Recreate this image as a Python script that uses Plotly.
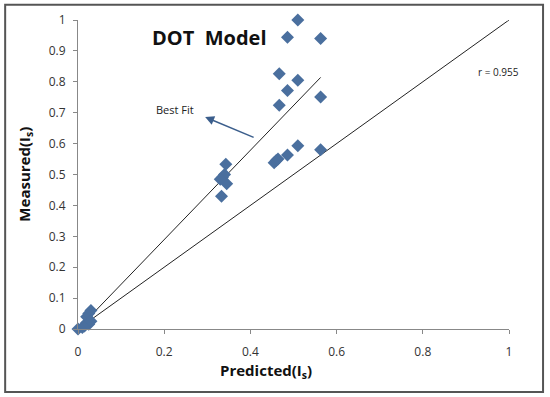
import numpy as np
import plotly.graph_objects as go

# Data
predicted = [0.0, 0.01, 0.015, 0.02, 0.025, 0.02, 0.025, 0.03, 0.03,
             0.343, 0.335, 0.34, 0.345, 0.333, 0.33,
             0.455, 0.46, 0.464, 0.486, 0.51, 0.563,
             0.467, 0.563, 0.486, 0.51, 0.467, 0.486, 0.563, 0.51]
measured = [0.0, 0.005, 0.01, 0.02, 0.015, 0.04, 0.05, 0.06, 0.025,
            0.533, 0.49, 0.50, 0.47, 0.43, 0.485,
            0.538, 0.545, 0.55, 0.563, 0.593, 0.58,
            0.724, 0.751, 0.772, 0.805, 0.826, 0.944, 0.94, 1.0]
r_value = 0.955
x_ticks = [0, 0.2, 0.4, 0.6, 0.8, 1]
y_ticks = [0, 0.1, 0.2, 0.3, 0.4, 0.5, 0.6, 0.7, 0.8, 0.9, 1]

px_arr = np.array(predicted)
my_arr = np.array(measured)
slope = float((px_arr * my_arr).sum() / (px_arr ** 2).sum())
fit_x = [0.0, float(px_arr.max())]
fit_y = [slope * v for v in fit_x]

font_main = "Open Sans, Liberation Sans, Arial, sans-serif"

fig = go.Figure()
fig.add_trace(go.Scatter(x=[0, 1], y=[0, 1], mode="lines+markers",
                         line=dict(color="#222222", width=1),
                         marker=dict(size=[0, 3], color="#222222"),
                         hoverinfo="skip", showlegend=False))
fig.add_trace(go.Scatter(x=fit_x, y=fit_y, mode="lines",
                         line=dict(color="#222222", width=1),
                         hoverinfo="skip", showlegend=False))
fig.add_trace(go.Scatter(x=predicted, y=measured, mode="markers",
                         marker=dict(symbol="diamond", size=10, color="#4a6f9e",
                                     line=dict(width=0)),
                         cliponaxis=False, showlegend=False))

axis_common = dict(showgrid=False, zeroline=False, showline=True,
                   linecolor="#888888", linewidth=1, ticks="outside",
                   ticklen=4, tickcolor="#888888",
                   tickfont=dict(family=font_main, size=12, color="#333333"),
                   mirror=False)

fig.update_layout(
    width=550, height=397,
    margin=dict(l=78, r=41, t=20, b=68),
    paper_bgcolor="white", plot_bgcolor="white",
    xaxis=dict(range=[0, 1], tickvals=x_ticks, ticklabelstandoff=8,
               ticktext=[f"{v:g}" for v in x_ticks], **axis_common),
    yaxis=dict(range=[0, 1], tickvals=y_ticks, ticklabelstandoff=5,
               ticktext=[f"{v:g}" for v in y_ticks], **axis_common),
    shapes=[dict(type="rect", xref="paper", yref="paper",
                 x0=-0.169, x1=1.079, y0=-0.204, y1=1.049,
                 line=dict(color="#555555", width=2), layer="below")],
    annotations=[
        dict(text="<b>Predicted(I<sub>s</sub>)</b>", x=0.436, y=-0.136,
             xref="paper", yref="paper", xanchor="center", yanchor="middle",
             showarrow=False,
             font=dict(family=font_main, size=15, color="#111111")),
        dict(text="<b>Measured(I<sub>s</sub>)</b>", x=-0.125, y=0.50,
             xref="paper", yref="paper", xanchor="center", yanchor="middle",
             showarrow=False, textangle=-90,
             font=dict(family=font_main, size=15, color="#111111")),
        dict(text="<b>DOT  Model</b>", x=0.306, y=0.942, xref="x", yref="y",
             showarrow=False, font=dict(family=font_main, size=20, color="#111111")),
        dict(text=f"r = {r_value}", x=0.976, y=0.832, xref="x", yref="y",
             showarrow=False, font=dict(family=font_main, size=10, color="#222222")),
        dict(text="Best Fit", x=0.225, y=0.709, xref="x", yref="y",
             showarrow=False, font=dict(family=font_main, size=11, color="#222222")),
        dict(text="", x=0.295, y=0.686, xref="x", yref="y",
             ax=0.411, ay=0.618, axref="x", ayref="y",
             showarrow=True, arrowhead=2, arrowsize=1.2, arrowwidth=1.5,
             arrowcolor="#3b5e8c"),
    ],
)

fig.write_html("out.html", config={"displayModeBar": False},
               post_script="document.body.style.margin='0';")
